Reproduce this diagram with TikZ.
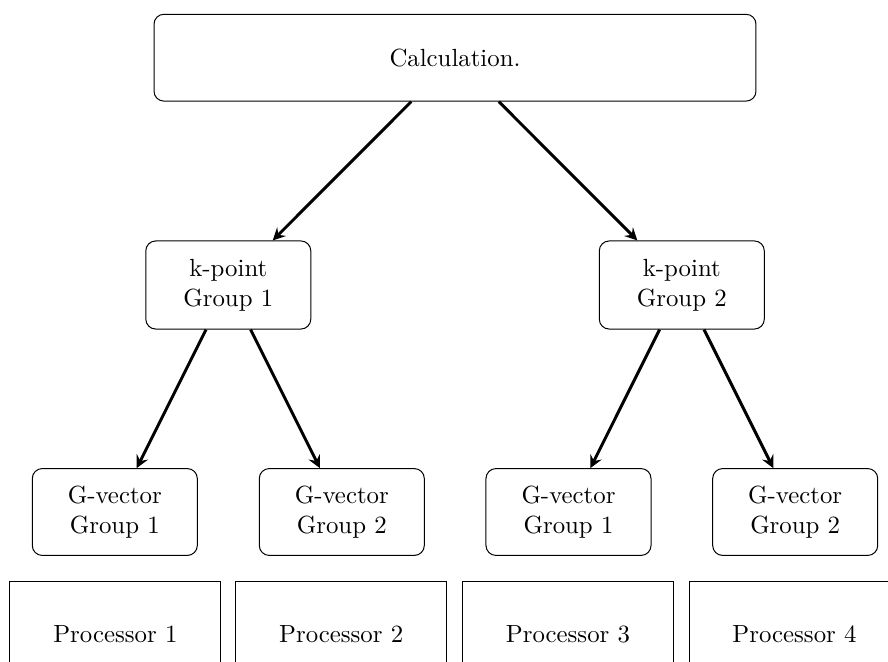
\documentclass[tikz,border=0pt]{standalone}
\usetikzlibrary{arrows}
\begin{document}
\begin{tikzpicture}[x=0.403pt,y=-0.403pt,
  rbox/.style={draw,rounded corners=4pt,align=center,inner sep=0pt},
  calcbox/.style={rbox,minimum width=242.6pt,minimum height=35pt},
  kbox/.style={rbox,minimum width=66.5pt,minimum height=35.5pt},
  gbox/.style={rbox,minimum width=66.5pt,minimum height=35pt},
  pbox/.style={draw,inner sep=0pt,minimum width=85pt,minimum height=42.3pt},
  conn/.style={->,>=stealth,very thick}]
\useasboundingbox (0,0) rectangle (888,662);
\clip (0,0) rectangle (888,662);
\node[calcbox] (calc) at (455,57.7) {Calculation.};
\node[kbox] (k1) at (228.3,285) {k-point\\Group 1};
\node[kbox] (k2) at (681.8,285) {k-point\\Group 2};
\node[gbox] (g1) at (114.8,512) {G-vector\\Group 1};
\node[gbox] (g2) at (341.8,512) {G-vector\\Group 2};
\node[gbox] (g3) at (568.5,512) {G-vector\\Group 1};
\node[gbox] (g4) at (795.2,512) {G-vector\\Group 2};
\node[pbox] (p1) at (115.4,634) {Processor 1};
\node[pbox] (p2) at (341.2,634) {Processor 2};
\node[pbox] (p3) at (568,634) {Processor 3};
\node[pbox] (p4) at (794.5,634) {Processor 4};
\draw[conn] (calc) -- (k1);
\draw[conn] (calc) -- (k2);
\draw[conn] (k1) -- (g1);
\draw[conn] (k1) -- (g2);
\draw[conn] (k2) -- (g3);
\draw[conn] (k2) -- (g4);
\end{tikzpicture}
\end{document}
